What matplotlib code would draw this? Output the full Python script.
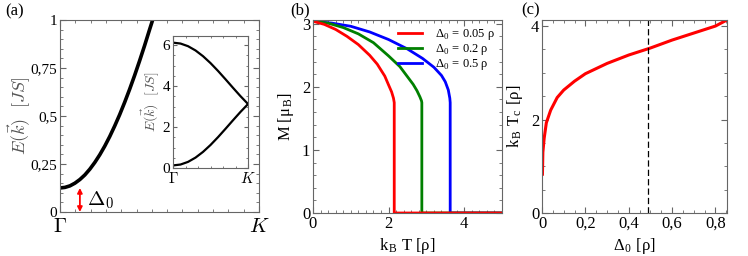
import matplotlib
matplotlib.use("Agg")
import matplotlib.pyplot as plt
from matplotlib.ticker import MultipleLocator

plt.rcParams["mathtext.fontset"] = "cm"
plt.rcParams["font.family"] = ["Liberation Serif", "DejaVu Serif"]

# (a) lower magnon branch along Gamma -> K (main panel, zoomed)
k_main = [0, 0.025, 0.05, 0.075, 0.1, 0.125, 0.15, 0.175, 0.2, 0.225, 0.25,
          0.275, 0.3, 0.325, 0.35, 0.375, 0.4, 0.425, 0.45, 0.47]
e_main = [0.125, 0.128, 0.136, 0.150, 0.169, 0.193, 0.223, 0.258, 0.298, 0.343,
          0.393, 0.448, 0.507, 0.571, 0.639, 0.711, 0.787, 0.866, 0.949, 1.014]
gap = 0.125

# (a) inset: both branches
k_inset = [0, 0.1, 0.2, 0.3, 0.4, 0.5, 0.6, 0.7, 0.8, 0.9, 1.0]
e_low = [0.125, 0.169, 0.298, 0.507, 0.787, 1.125, 1.507, 1.916, 2.334, 2.743, 3.125]
e_up = [6.125, 6.081, 5.952, 5.743, 5.463, 5.125, 4.743, 4.334, 3.916, 3.507, 3.125]

# (b) magnetisation vs temperature
t_red = [0, 0.3, 0.6, 0.9, 1.2, 1.5, 1.7, 1.9, 2.0, 2.08, 2.13, 2.15, 2.15, 5.0]
m_red = [3.04, 2.99, 2.91, 2.80, 2.67, 2.50, 2.36, 2.17, 2.03, 1.92, 1.82, 1.75, 0, 0]
t_green = [0, 0.4, 0.8, 1.2, 1.6, 2.0, 2.3, 2.5, 2.65, 2.75, 2.83, 2.87, 2.88, 2.88, 5.0]
m_green = [3.04, 3.01, 2.94, 2.84, 2.70, 2.49, 2.32, 2.16, 2.04, 1.94, 1.84, 1.78, 1.75, 0, 0]
t_blue = [0, 0.5, 1.0, 1.5, 2.0, 2.5, 2.9, 3.2, 3.4, 3.5, 3.58, 3.62, 3.63, 3.63, 5.0]
m_blue = [3.04, 3.01, 2.96, 2.87, 2.75, 2.60, 2.45, 2.31, 2.18, 2.08, 1.95, 1.82, 1.75, 0, 0]
b_labels = [r"Δ$_\mathregular{0}$ = 0.05 ρ", r"Δ$_\mathregular{0}$ = 0.2 ρ",
            r"Δ$_\mathregular{0}$ = 0.5 ρ"]

# (c) critical temperature vs gap
d_c = [0.002, 0.004, 0.01, 0.02, 0.04, 0.07, 0.1, 0.15, 0.2, 0.3, 0.4, 0.5,
       0.6, 0.7, 0.8, 0.853]
tc_c = [0.83, 1.3, 1.6, 1.93, 2.2, 2.47, 2.63, 2.82, 2.98, 3.2, 3.38, 3.53,
        3.7, 3.85, 4.0, 4.13]
d_mark = 0.49

FRAME = "#666666"


def frame(ax, size=10):
    for s in ax.spines.values():
        s.set_color(FRAME)
        s.set_linewidth(0.8)
    ax.tick_params(which="both", direction="in", top=True, right=True,
                   color=FRAME, labelsize=size, pad=2)
    ax.tick_params(which="major", length=4)
    ax.tick_params(which="minor", length=2)


fig = plt.figure(figsize=(7.48, 2.56), dpi=100)

# ---- (a)
ax = fig.add_axes([0.0802, 0.172, 0.266, 0.75])
frame(ax, 11)
ax.plot(k_main, e_main, color="black", lw=2.6, solid_capstyle="butt")
ax.set_xlim(0, 1)
ax.set_ylim(0, 1)
ax.set_xticks([0, 1])
ax.set_xticklabels([r"$\Gamma$", r"$K$"], fontsize=15)
ax.set_yticks([0, 0.25, 0.5, 0.75, 1])
ax.set_yticklabels(["0", "0,25", "0,5", "0,75", "1"])
ax.xaxis.set_minor_locator(MultipleLocator(1 / 13))
ax.yaxis.set_minor_locator(MultipleLocator(0.05))
ax.tick_params(axis="x", pad=4)
ax.set_ylabel(r"$E(\vec{k})\ \ [JS]$", fontsize=13, color="#555555", labelpad=-2)
ax.annotate("", xy=(0.1, 0), xytext=(0.1, gap),
            arrowprops=dict(arrowstyle="<|-|>", color="red", lw=1.3,
                            mutation_scale=7, shrinkA=0, shrinkB=0))
ax.text(0.135, gap / 2, r"$\Delta_0$", fontsize=15, va="center", ha="left")
fig.text(0.007, 0.955, "(a)", fontsize=12, va="center")

ins = fig.add_axes([0.2313, 0.3438, 0.1003, 0.5156])
frame(ins, 11)
ins.plot(k_inset, e_up, color="black", lw=1.6)
ins.plot(k_inset, e_low, color="black", lw=1.6)
ins.set_xlim(0, 1)
ins.set_ylim(0, 6.45)
ins.set_xticks([0, 1])
ins.set_xticklabels([r"$\Gamma$", r"$K$"], fontsize=11)
ins.set_yticks([0, 2, 4, 6])
ins.xaxis.set_minor_locator(MultipleLocator(1 / 6))
ins.yaxis.set_minor_locator(MultipleLocator(0.5))
ins.tick_params(which="major", length=3)
ins.tick_params(which="minor", length=1.5)
ins.tick_params(axis="x", pad=2)
ins.set_ylabel(r"$E(\vec{k})\ \ [JS]$", fontsize=10, color="#555555", labelpad=1)

# ---- (b)
bx = fig.add_axes([0.4184, 0.168, 0.2527, 0.754])
frame(bx, 12)
bx.plot(t_blue, m_blue, color="#0000ff", lw=2.0, label=b_labels[2])
bx.plot(t_green, m_green, color="#008000", lw=2.0, label=b_labels[1])
bx.plot(t_red, m_red, color="#ff0000", lw=2.0, label=b_labels[0])
bx.set_xlim(0, 5)
bx.set_ylim(0, 3.06)
bx.set_xticks([0, 2, 4])
bx.set_yticks([0, 1, 2, 3])
bx.xaxis.set_minor_locator(MultipleLocator(0.2))
bx.yaxis.set_minor_locator(MultipleLocator(0.2))
bx.set_xlabel(r"k$_\mathregular{B}$ T [ρ]", fontsize=12, labelpad=3)
bx.set_ylabel(r"M [μ$_\mathregular{B}$]", fontsize=12, labelpad=4)
h, l = bx.get_legend_handles_labels()
bx.legend(h[::-1], l[::-1], loc="upper right", frameon=False, fontsize=9,
          handlelength=1.9, handletextpad=1.0, labelspacing=0.0,
          borderaxespad=0.2, bbox_to_anchor=(1.0, 1.0))
fig.text(0.388, 0.96, "(b)", fontsize=12, va="center")

# ---- (c)
cx = fig.add_axes([0.7246, 0.168, 0.2473, 0.754])
frame(cx, 12)
cx.plot(d_c, tc_c, color="#ff0000", lw=2.2)
cx.axvline(d_mark, color="black", lw=0.9, ls=(0, (5, 2.5)))
cx.set_xlim(0, 0.853)
cx.set_ylim(0, 4.13)
cx.set_xticks([0, 0.2, 0.4, 0.6, 0.8])
cx.set_xticklabels(["0", "0,2", "0,4", "0,6", "0,8"])
cx.set_yticks([0, 2, 4])
cx.xaxis.set_minor_locator(MultipleLocator(0.05))
cx.yaxis.set_minor_locator(MultipleLocator(0.5))
cx.set_xlabel(r"Δ$_\mathregular{0}$ [ρ]", fontsize=12, labelpad=3)
cx.set_ylabel(r"k$_\mathregular{B}$ T$_\mathregular{c}$ [ρ]", fontsize=12, labelpad=4)
fig.text(0.697, 0.96, "(c)", fontsize=12, va="center")

fig.savefig("out.png", dpi=100)
